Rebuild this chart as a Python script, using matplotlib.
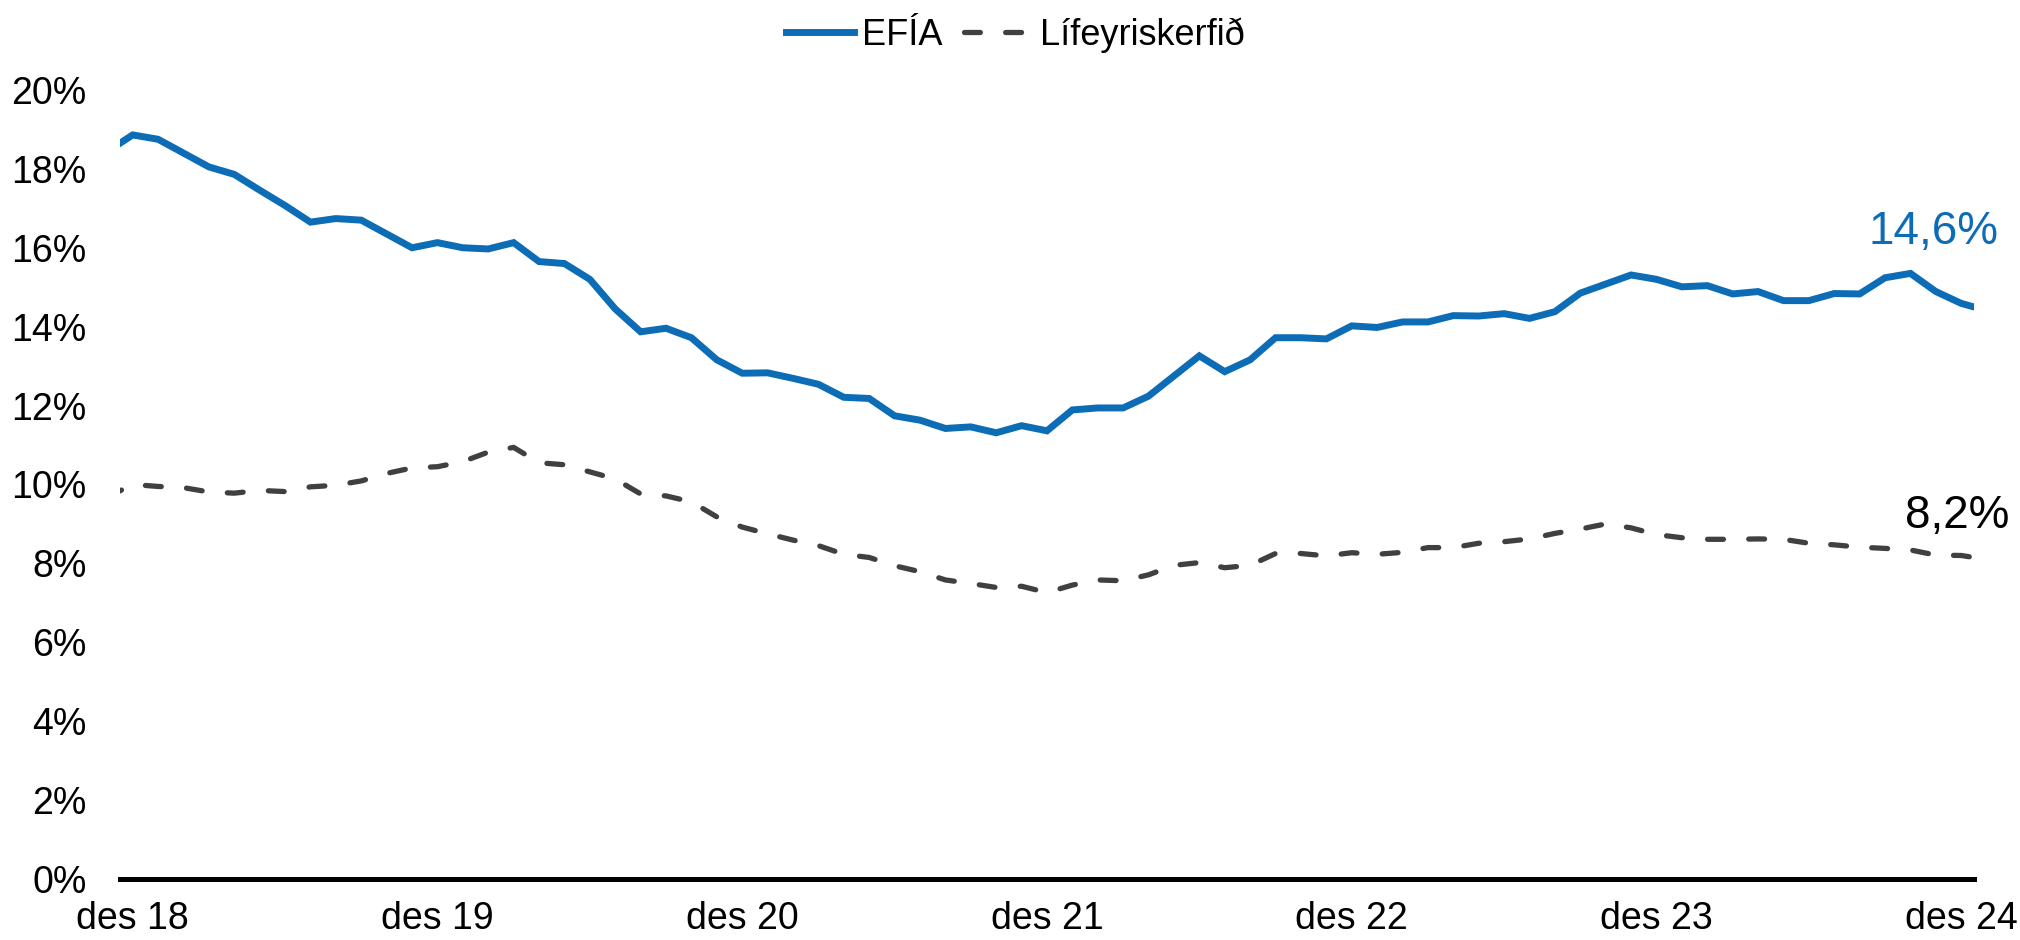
import numpy as np
import matplotlib.pyplot as plt
import matplotlib as mpl

mpl.rcParams['font.family'] = ['Liberation Sans', 'DejaVu Sans']

# manaðargildi, nóv 18 - jan 25 (fyrsta og síðasta punkti er klippt af ásnum)
efia = [18.44, 18.86, 18.75, 18.40, 18.05, 17.86, 17.46, 17.07, 16.65, 16.74,
        16.70, 16.35, 16.00, 16.13, 16.00, 15.97, 16.13, 15.65, 15.60, 15.20,
        14.45, 13.87, 13.96, 13.72, 13.16, 12.82, 12.83, 12.69, 12.54, 12.21,
        12.18, 11.74, 11.63, 11.42, 11.46, 11.31, 11.49, 11.36, 11.89, 11.94,
        11.94, 12.24, 12.75, 13.26, 12.86, 13.16, 13.72, 13.72, 13.69, 14.02,
        13.98, 14.12, 14.12, 14.28, 14.27, 14.33, 14.21, 14.38, 14.85, 15.08,
        15.31, 15.20, 15.01, 15.04, 14.83, 14.89, 14.66, 14.66, 14.84, 14.83,
        15.24, 15.35, 14.89, 14.59, 14.41]
lifeyr = [9.68, 10.00, 9.95, 9.92, 9.81, 9.78, 9.85, 9.82, 9.94, 9.98,
          10.09, 10.28, 10.42, 10.45, 10.58, 10.82, 10.94, 10.55, 10.50, 10.32,
          10.14, 9.76, 9.71, 9.56, 9.18, 8.92, 8.75, 8.59, 8.45, 8.23,
          8.15, 7.94, 7.79, 7.58, 7.49, 7.39, 7.42, 7.26, 7.45, 7.58,
          7.56, 7.71, 7.95, 8.02, 7.89, 7.95, 8.25, 8.25, 8.19, 8.27,
          8.23, 8.28, 8.40, 8.40, 8.51, 8.55, 8.62, 8.76, 8.87, 9.00,
          8.90, 8.73, 8.65, 8.61, 8.61, 8.62, 8.61, 8.51, 8.47, 8.41,
          8.38, 8.34, 8.21, 8.20, 8.10]
xlabels = ['des 18', 'des 19', 'des 20', 'des 21', 'des 22', 'des 23', 'des 24']
end_efia = '14,6%'
end_lifeyr = '8,2%'

blue = '#0C6CB6'
grey = '#404040'

x = np.arange(-1, len(efia) - 1)

fig = plt.figure(figsize=(20.2, 9.4), dpi=100)
ax = fig.add_axes([0.0594, 0.0649, 0.9178, 0.8394])

ax.plot(x, efia, color=blue, lw=5, label='EFÍA', solid_joinstyle='miter')
ax.plot(x, lifeyr, color=grey, lw=3.8, dashes=(3.0, 4.8),
        dash_capstyle='round', label='Lífeyriskerfið')

ax.set_xlim(-0.5, 72.5)
ax.set_ylim(0, 20)
ax.set_xticks(np.arange(0, 73, 12))
ax.set_xticklabels(xlabels)
ax.set_yticks(range(0, 21, 2))
ax.set_yticklabels([str(v) + '%' for v in range(0, 21, 2)])
ax.tick_params(axis='both', length=0, labelsize=27)
ax.tick_params(axis='y', pad=24)
ax.tick_params(axis='x', pad=16)

for s in ['top', 'right', 'left']:
    ax.spines[s].set_visible(False)
ax.spines['bottom'].set_linewidth(3.6)
ax.spines['bottom'].set_color('black')

# gildi síðasta mánaðar
ax.annotate(end_efia, (72, efia[-2]), xytext=(27, 43), textcoords='offset points',
            ha='right', va='baseline', fontsize=33, color=blue)
ax.annotate(end_lifeyr, (72, lifeyr[-2]), xytext=(35, 20), textcoords='offset points',
            ha='right', va='baseline', fontsize=33, color='black')

fig.legend(loc='center', bbox_to_anchor=(0.5025, 0.963), ncol=2, frameon=False,
           fontsize=26, handlelength=1.9, handletextpad=0.2, columnspacing=0.6)

fig.savefig('out.png', dpi=100)
